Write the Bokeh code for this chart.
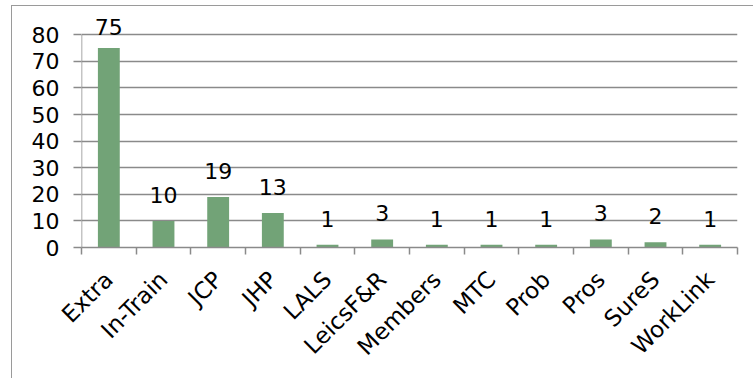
import numpy as np
from bokeh.plotting import figure
from bokeh.models import (ColumnDataSource, LabelSet, FixedTicker, Range1d,
                          InlineStyleSheet)
from bokeh.core.properties import value
from bokeh.embed import file_html
from bokeh.resources import INLINE

# Referral counts per source
categories = ["Extra", "In-Train", "JCP", "JHP", "LALS", "LeicsF&R",
              "Members", "MTC", "Prob", "Pros", "SureS", "WorkLink"]
counts = [75, 10, 19, 13, 1, 3, 1, 1, 1, 3, 2, 1]
y_ticks = [0, 10, 20, 30, 40, 50, 60, 70, 80]

BAR = "#72a377"
GRID = "#8a8a8a"
FONT = "DejaVu Sans"
FS = "22px"
FS_CAT = "23px"

x = np.arange(len(categories))
y_max = y_ticks[-1]
# headroom above the top gridline so the value labels are not cut off
y_top = y_max * 237 / 212.8
# labels sit above each bar, kept below the top of the value axis
label_y = np.minimum(np.array(counts) + 6.8, y_max)

src = ColumnDataSource(dict(x=x, top=counts, label=[str(c) for c in counts],
                            ly=label_y))

p = figure(width=753, height=378, output_backend="svg", toolbar_location=None,
           x_range=Range1d(-0.5, len(categories) - 0.5),
           y_range=Range1d(0, y_top),
           min_border_left=81, min_border_right=16,
           min_border_top=10, min_border_bottom=131)
p.outline_line_color = None
p.background_fill_color = "white"
p.border_fill_color = "white"

# left/top border of the chart area
p.stylesheets = [InlineStyleSheet(css="""
:host::after {
  content: "";
  position: absolute;
  left: 11px; top: 5px; right: 0; bottom: 0;
  border-left: 1.5px solid #9a9a9a;
  border-top: 1.5px solid #9a9a9a;
  pointer-events: none;
}
""")]

p.vbar(x="x", top="top", width=0.4, bottom=0, source=src,
       fill_color=BAR, line_color=None)

p.add_layout(LabelSet(x="x", y="ly", text="label", source=src,
                      text_align="center", text_baseline="alphabetic",
                      text_font=value(FONT), text_font_size=FS,
                      text_color="black"))

# value axis line spans 0..80 only
p.segment(x0=[-0.5], y0=[0], x1=[-0.5], y1=[y_max],
          line_color=GRID, line_width=1.5)

yax = p.yaxis[0]
yax.ticker = FixedTicker(ticks=y_ticks)
yax.axis_line_color = None
yax.major_tick_line_color = GRID
yax.major_tick_line_width = 1.5
yax.major_tick_out = 8
yax.major_tick_in = 0
yax.minor_tick_line_color = None
yax.major_label_text_font = FONT
yax.major_label_text_font_size = FS
yax.major_label_text_color = "black"
yax.major_label_standoff = 14

# category axis: labels at bar centres, tick marks between categories
xax = p.xaxis[0]
xax.ticker = FixedTicker(ticks=list(x),
                         minor_ticks=list(np.arange(len(categories) + 1) - 0.5))
xax.major_label_overrides = {int(i): c for i, c in zip(x, categories)}
xax.major_label_orientation = np.pi / 4
xax.axis_line_color = GRID
xax.axis_line_width = 1.5
xax.major_tick_line_color = None
xax.minor_tick_line_color = GRID
xax.minor_tick_line_width = 1.5
xax.minor_tick_out = 7
xax.minor_tick_in = 0
xax.major_tick_out = 7
xax.major_label_text_font = FONT
xax.major_label_text_font_size = FS_CAT
xax.major_label_text_color = "black"
xax.major_label_standoff = 21

p.xgrid.grid_line_color = None
p.ygrid.ticker = FixedTicker(ticks=y_ticks[1:])
p.ygrid.grid_line_color = GRID
p.ygrid.grid_line_width = 1.5

open("out.html", "w").write(file_html(p, INLINE))
